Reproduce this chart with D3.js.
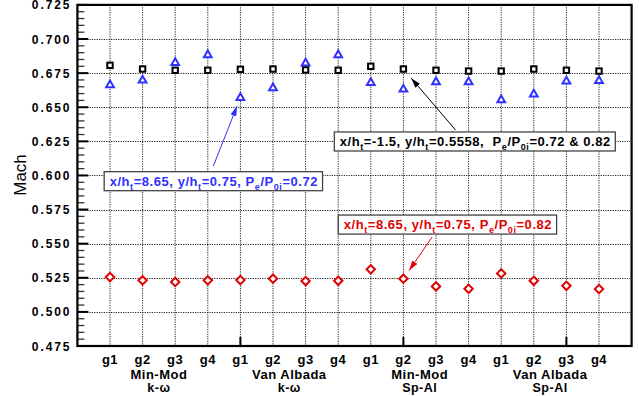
<!DOCTYPE html>
<html>
<head>
<meta charset="utf-8">
<script src="https://cdn.jsdelivr.net/npm/d3@7"></script>
<style>
	body { margin: 0; background: #fff; }
	text { font-family: 'Liberation Sans', Arial, sans-serif; }
</style>
</head>
<body>
<svg id="chart"></svg>
<script>
// grid level under each x slot
const gridLabels = [ 'g1','g2','g3','g4', 'g1','g2','g3','g4', 'g1','g2','g3','g4', 'g1','g2','g3','g4' ] ;
// scheme / turbulence model for each group of four
const schemeNames = [ 'Min-Mod', 'Van Albada', 'Min-Mod', 'Van Albada' ] ;
const modelNames = [ 'k-\u03c9', 'k-\u03c9', 'Sp-Al', 'Sp-Al' ] ;

// x/ht=-1.5, y/ht=0.5558 (both back pressures)
const machUpstream = [ 0.6807, 0.6780, 0.6771, 0.6771, 0.6778, 0.6780, 0.6773, 0.6771,
	0.6800, 0.6780, 0.6771, 0.6765, 0.6765, 0.6780, 0.6771, 0.6765 ] ;
// x/ht=8.65, y/ht=0.75, Pe/P0i=0.72
const machPe072 = [ 0.6663, 0.6697, 0.6826, 0.6883, 0.6570, 0.6641, 0.6822, 0.6883,
	0.6680, 0.6631, 0.6685, 0.6685, 0.6553, 0.6595, 0.6690, 0.6694 ] ;
// x/ht=8.65, y/ht=0.75, Pe/P0i=0.82
const machPe082 = [ 0.5255, 0.5231, 0.5219, 0.5231, 0.5233, 0.5243, 0.5226, 0.5228,
	0.5312, 0.5243, 0.5187, 0.5169, 0.5282, 0.5228, 0.5191, 0.5167 ] ;

const yTicks = [ 0.475, 0.500, 0.525, 0.550, 0.575, 0.600, 0.625, 0.650, 0.675, 0.700, 0.725 ] ;
const yLabel = 'Mach' ;

// annotation texts, [text, isSubscript]
const noteBlue = [ ['x/h',0], ['t',1], ['=8.65, y/h',0], ['t',1], ['=0.75, P',0], ['e',1], ['/P',0], ['0i',1], ['=0.72',0] ] ;
const noteRed = [ ['x/h',0], ['t',1], ['=8.65, y/h',0], ['t',1], ['=0.75, P',0], ['e',1], ['/P',0], ['0i',1], ['=0.82',0] ] ;
const noteBlack = [ ['x/h',0], ['t',1], ['=-1.5, y/h',0], ['t',1], ['=0.5558,  P',0], ['e',1], ['/P',0], ['0i',1], ['=0.72 & 0.82',0] ] ;

const geom = {
	width: 639,
	height: 396,
	margins: { left: 77.4, right: 8, top: 4.9, bottom: 50 }
} ;
const blue = '#3030ff' ;
const red = '#e00000' ;

const svg = d3.select( '#chart' )
	.attr( 'width', geom.width )
	.attr( 'height', geom.height ) ;

const x = d3.scaleLinear()
	.domain( [0, 17] )
	.range( [ geom.margins.left, geom.margins.left + 17 * 32.6 ] ) ;
const y = d3.scaleLinear()
	.domain( [0.475, 0.725] )
	.range( [ geom.margins.top + 10 * 34.11, geom.margins.top ] ) ;

const x0 = x(0), x1 = x(17), y0 = y(0.475), y1 = y(0.725) ;
const slots = d3.range( 1, 17 ) ;

// dotted grid
svg.append( 'g' )
	.selectAll( 'line' )
	.data( slots )
	.enter()
	.append( 'line' )
	.attr( 'x1', d => x(d) ).attr( 'x2', d => x(d) )
	.attr( 'y1', y1 ).attr( 'y2', y0 )
	.attr( 'stroke', '#222' )
	.attr( 'stroke-width', 1 )
	.attr( 'stroke-dasharray', '1.2 1.2' ) ;

svg.append( 'g' )
	.selectAll( 'line' )
	.data( yTicks.slice( 1, -1 ) )
	.enter()
	.append( 'line' )
	.attr( 'x1', x0 ).attr( 'x2', x1 )
	.attr( 'y1', d => Math.round( y(d) ) + 0.5 ).attr( 'y2', d => Math.round( y(d) ) + 0.5 )
	.attr( 'stroke', '#222' )
	.attr( 'stroke-width', 1 )
	.attr( 'stroke-dasharray', '1.2 1.2' ) ;

// left axis: majors + minors
const minorY = d3.range( 0, 51 ).map( i => 0.475 + i * 0.005 ).filter( (d, i) => i % 5 != 0 ) ;
svg.append( 'g' )
	.selectAll( 'line' )
	.data( minorY )
	.enter()
	.append( 'line' )
	.attr( 'x1', x0 ).attr( 'x2', x0 + 7 )
	.attr( 'y1', d => y(d) ).attr( 'y2', d => y(d) )
	.attr( 'stroke', '#333' )
	.attr( 'stroke-width', 1.3 ) ;

svg.append( 'g' )
	.selectAll( 'line' )
	.data( yTicks )
	.enter()
	.append( 'line' )
	.attr( 'x1', x0 ).attr( 'x2', x0 + 11 )
	.attr( 'y1', d => y(d) ).attr( 'y2', d => y(d) )
	.attr( 'stroke', '#000' )
	.attr( 'stroke-width', 2 ) ;

svg.append( 'g' )
	.selectAll( 'text' )
	.data( yTicks )
	.enter()
	.append( 'text' )
	.attr( 'x', x0 - 6 )
	.attr( 'y', d => y(d) )
	.attr( 'dy', '0.38em' )
	.attr( 'text-anchor', 'end' )
	.attr( 'font-size', '12px' )
	.attr( 'font-weight', 'bold' )
	.attr( 'letter-spacing', '1.9px' )
	.text( d => d3.format( '.3f' )(d) ) ;

// bottom axis majors every 5 slots
svg.append( 'g' )
	.selectAll( 'line' )
	.data( [5, 10, 15] )
	.enter()
	.append( 'line' )
	.attr( 'x1', d => x(d) ).attr( 'x2', d => x(d) )
	.attr( 'y1', y0 ).attr( 'y2', y0 - 9 )
	.attr( 'stroke', '#000' )
	.attr( 'stroke-width', 2 ) ;

// frame
svg.append( 'rect' )
	.attr( 'x', x0 ).attr( 'y', y1 )
	.attr( 'width', x1 - x0 ).attr( 'height', y0 - y1 )
	.attr( 'fill', 'none' )
	.attr( 'stroke', '#000' )
	.attr( 'stroke-width', 2.2 ) ;

// x labels
svg.append( 'g' )
	.selectAll( 'text' )
	.data( gridLabels )
	.enter()
	.append( 'text' )
	.attr( 'x', (d, i) => x(i + 1) )
	.attr( 'y', 364 )
	.attr( 'text-anchor', 'middle' )
	.attr( 'font-size', '13px' )
	.attr( 'font-weight', 'bold' )
	.attr( 'letter-spacing', '0.5px' )
	.text( d => d ) ;

svg.append( 'g' )
	.selectAll( 'text' )
	.data( schemeNames )
	.enter()
	.append( 'text' )
	.attr( 'x', (d, i) => x(i * 4 + 2.5) )
	.attr( 'y', 378.5 )
	.attr( 'text-anchor', 'middle' )
	.attr( 'font-size', '13px' )
	.attr( 'font-weight', 'bold' )
	.attr( 'letter-spacing', '0.5px' )
	.text( d => d ) ;

svg.append( 'g' )
	.selectAll( 'text' )
	.data( modelNames )
	.enter()
	.append( 'text' )
	.attr( 'x', (d, i) => x(i * 4 + 2.5) )
	.attr( 'y', 391.5 )
	.attr( 'text-anchor', 'middle' )
	.attr( 'font-size', '12.5px' )
	.attr( 'font-weight', 'bold' )
	.attr( 'letter-spacing', '0.5px' )
	.text( d => d ) ;

svg.append( 'text' )
	.attr( 'transform', 'translate(26 175) rotate(-90)' )
	.attr( 'text-anchor', 'middle' )
	.attr( 'font-size', '17px' )
	.text( yLabel ) ;

// markers
const symTri = d3.symbol().type( d3.symbolTriangle ).size( 26 ) ;
// square diamond (rotated square)
const dia = 'M0,-4.2 L4.2,0 L0,4.2 L-4.2,0 Z' ;

svg.append( 'g' )
	.selectAll( 'path' )
	.data( machPe072 )
	.enter()
	.append( 'path' )
	.attr( 'd', symTri )
	.attr( 'transform', (d, i) => 'translate(' + x(i + 1) + ' ' + y(d) + ')' )
	.attr( 'fill', '#fff' )
	.attr( 'stroke', blue )
	.attr( 'stroke-width', 2 ) ;

svg.append( 'g' )
	.selectAll( 'rect' )
	.data( machUpstream )
	.enter()
	.append( 'rect' )
	.attr( 'x', (d, i) => x(i + 1) - 2.7 )
	.attr( 'y', d => y(d) - 2.7 )
	.attr( 'width', 5.4 ).attr( 'height', 5.4 )
	.attr( 'fill', '#fff' )
	.attr( 'stroke', '#000' )
	.attr( 'stroke-width', 2 ) ;

svg.append( 'g' )
	.selectAll( 'path' )
	.data( machPe082 )
	.enter()
	.append( 'path' )
	.attr( 'd', dia )
	.attr( 'transform', (d, i) => 'translate(' + x(i + 1) + ' ' + y(d) + ')' )
	.attr( 'fill', '#fff' )
	.attr( 'stroke', red )
	.attr( 'stroke-width', 2 ) ;

// arrowheads
const defs = svg.append( 'defs' ) ;
[ ['blue', blue], ['red', red], ['black', '#000'] ].forEach( ([id, col]) => {
	defs.append( 'marker' )
		.attr( 'id', 'arrow-' + id )
		.attr( 'viewBox', '0 0 10 6' )
		.attr( 'refX', 10 ).attr( 'refY', 3 )
		.attr( 'markerWidth', 10 ).attr( 'markerHeight', 6 )
		.attr( 'markerUnits', 'userSpaceOnUse' )
		.attr( 'orient', 'auto' )
		.append( 'path' )
		.attr( 'd', 'M0,0 L10,3 L0,6 Z' )
		.attr( 'fill', col ) ;
} ) ;

function arrow( from, tx, ty, id, col, gap ) {
	let fx = x(from[0]), fy = y(from[1]) ;
	let dx = tx - fx, dy = ty - fy ;
	let len = Math.sqrt( dx * dx + dy * dy ) ;
	svg.append( 'line' )
		.attr( 'x1', fx ).attr( 'y1', fy )
		.attr( 'x2', tx - dx / len * gap ).attr( 'y2', ty - dy / len * gap )
		.attr( 'stroke', col )
		.attr( 'stroke-width', 1 )
		.attr( 'marker-end', 'url(#arrow-' + id + ')' ) ;
}

function note( parts, px, py, col ) {
	let g = svg.append( 'g' ) ;
	let rect = g.append( 'rect' ) ;
	let t = g.append( 'text' )
		.attr( 'x', x(px) )
		.attr( 'y', y(py) )
		.attr( 'font-size', '13px' )
		.attr( 'font-weight', 'bold' )
		.attr( 'letter-spacing', '0.55px' )
		.attr( 'fill', col )
		.style( 'white-space', 'pre' ) ;
	let sub = false ;
	parts.forEach( ([s, isSub]) => {
		let ts = t.append( 'tspan' ).text( s ) ;
		if( isSub && !sub ) ts.attr( 'dy', 4 ).attr( 'font-size', '9px' ) ;
		else if( !isSub && sub ) ts.attr( 'dy', -4 ) ;
		else if( isSub ) ts.attr( 'font-size', '9px' ) ;
		sub = !!isSub ;
	} ) ;
	let bb = t.node().getBBox() ;
	rect
		.attr( 'x', bb.x - 5.5 ).attr( 'y', y(py) - 14 )
		.attr( 'width', bb.width + 10 ).attr( 'height', 19 )
		.attr( 'fill', '#fff' )
		.attr( 'stroke', '#444' )
		.attr( 'stroke-width', 1.3 ) ;
}

arrow( [4.17, 0.6069], x(5), y(machPe072[4]), 'blue', blue, 9 ) ;
arrow( [11.6, 0.6333], x(10), y(machUpstream[9]), 'black', '#000', 12 ) ;
arrow( [10.88, 0.5548], x(10), y(machPe082[9]), 'red', red, 10 ) ;

note( noteBlue, 0.99, 0.5925, blue ) ;
note( noteBlack, 8.05, 0.6216, '#000' ) ;
note( noteRed, 8.17, 0.5607, red ) ;
</script>
</body>
</html>
